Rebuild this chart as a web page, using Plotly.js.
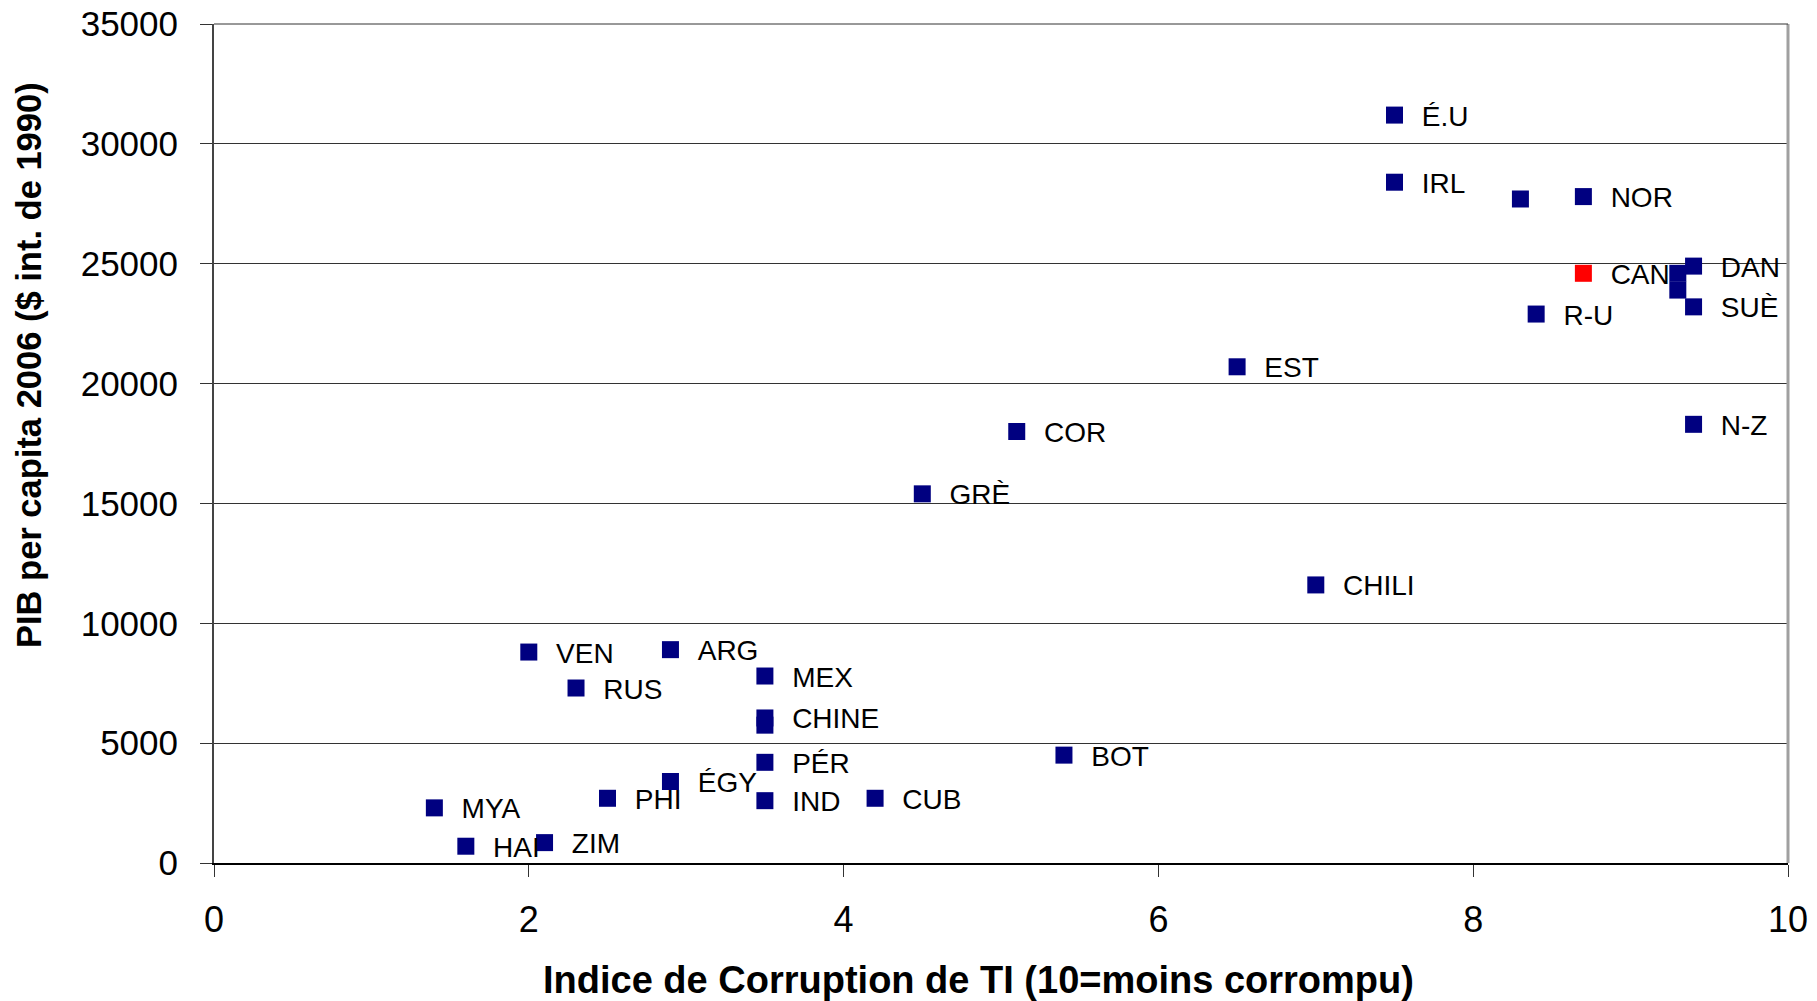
<!DOCTYPE html>
<html>
<head>
<meta charset="utf-8">
<script src="https://cdn.plot.ly/plotly-3.0.1.min.js"></script>
<style>html,body{margin:0;padding:0;background:#fff;}#chart{width:1817px;height:1001px;}</style>
</head>
<body>
<div id="chart"></div>
<script>
// Country labels (empty string = unlabeled point)
const countries = ['É.U','IRL','','NOR','CAN','','','DAN','SUÈ','N-Z','R-U','EST','COR','GRÈ','CHILI','VEN','ARG','MEX','RUS','CHINE','','PÉR','ÉGY','IND','CUB','PHI','MYA','HAI','ZIM','BOT'];
// Indice de Corruption de TI
const cpi = [7.5,7.5,8.3,8.7,8.7,9.3,9.3,9.4,9.4,9.4,8.4,6.5,5.1,4.5,7.0,2.0,2.9,3.5,2.3,3.5,3.5,3.5,2.9,3.5,4.2,2.5,1.4,1.6,2.1,5.4];
// PIB per capita 2006 ($ int. de 1990)
const gdp = [31200,28400,27700,27800,24600,24600,23900,24900,23200,18300,22900,20700,18000,15400,11600,8800,8900,7800,7300,6050,5750,4200,3400,2600,2700,2700,2300,700,850,4500];
// Highlighted country
const highlight = 'CAN';

const xTicks = [0,2,4,6,8,10];
const yTicks = [0,5000,10000,15000,20000,25000,30000,35000];

const NAVY = '#000080', RED = '#ff0000';
const FONT = 'Liberation Sans, Arial, sans-serif';
const Y_MAX = 35000;
// labels sit a few pixels below their marker's centre line
const LABEL_DROP = 146;

const markerColors = countries.map(c => c === highlight ? RED : NAVY);

const labelTrace = {
  type: 'scatter', mode: 'markers+text', yaxis: 'y2',
  x: cpi, y: gdp, text: countries,
  textposition: 'middle right',
  textfont: {family: FONT, size: 28, color: '#000'},
  marker: {size: 42, color: 'rgba(0,0,0,0)', line: {width: 0}},
  cliponaxis: false, hoverinfo: 'skip', showlegend: false
};
const pointTrace = {
  type: 'scatter', mode: 'markers',
  x: cpi, y: gdp,
  marker: {symbol: 'square', size: 17, color: markerColors, line: {width: 0}},
  cliponaxis: false, hoverinfo: 'skip', showlegend: false
};

const layout = {
  width: 1817, height: 1001,
  margin: {l: 214, r: 29, t: 24, b: 138, pad: 0},
  paper_bgcolor: '#fff', plot_bgcolor: '#fff',
  showlegend: false,
  xaxis: {
    range: [0, 10], tickvals: xTicks, ticktext: xTicks.map(String),
    showgrid: false, zeroline: false,
    showline: true, linecolor: '#000', linewidth: 2,
    ticks: 'outside', ticklen: 12, tickwidth: 1, tickcolor: '#333',
    ticklabelstandoff: 12,
    tickfont: {family: FONT, size: 36, color: '#000'}
  },
  yaxis: {
    range: [0, Y_MAX], tickvals: yTicks, ticktext: yTicks.map(String),
    showgrid: true, gridcolor: '#333', gridwidth: 1, zeroline: false,
    showline: true, linecolor: '#444', linewidth: 2,
    ticks: 'outside', ticklen: 12, tickwidth: 1, tickcolor: '#333',
    ticklabelstandoff: 15,
    tickfont: {family: FONT, size: 35, color: '#000'}
  },
  yaxis2: {
    overlaying: 'y', range: [LABEL_DROP, Y_MAX + LABEL_DROP], visible: false,
    showgrid: false, zeroline: false
  },
  shapes: [
    {type: 'line', xref: 'paper', yref: 'paper', x0: 1, x1: 1, y0: 0, y1: 1, line: {color: '#a0a0a0', width: 3}},
    {type: 'line', xref: 'paper', yref: 'paper', x0: 0, x1: 1, y0: 1, y1: 1, line: {color: '#333', width: 1}}
  ],
  annotations: [
    {text: '<b>Indice de Corruption de TI (10=moins corrompu)</b>', xref: 'paper', yref: 'paper',
     x: 0.486, y: -0.139, xanchor: 'center', yanchor: 'middle', showarrow: false,
     font: {family: FONT, size: 38, color: '#000'}},
    {text: '<b>PIB per capita 2006 ($ int. de 1990)</b>', xref: 'paper', yref: 'paper',
     x: -0.1175, y: 0.5936, xanchor: 'center', yanchor: 'middle', showarrow: false, textangle: -90,
     font: {family: FONT, size: 34.5, color: '#000'}}
  ]
};

Plotly.newPlot('chart', [labelTrace, pointTrace], layout, {displayModeBar: false, staticPlot: true});
</script>
</body>
</html>
